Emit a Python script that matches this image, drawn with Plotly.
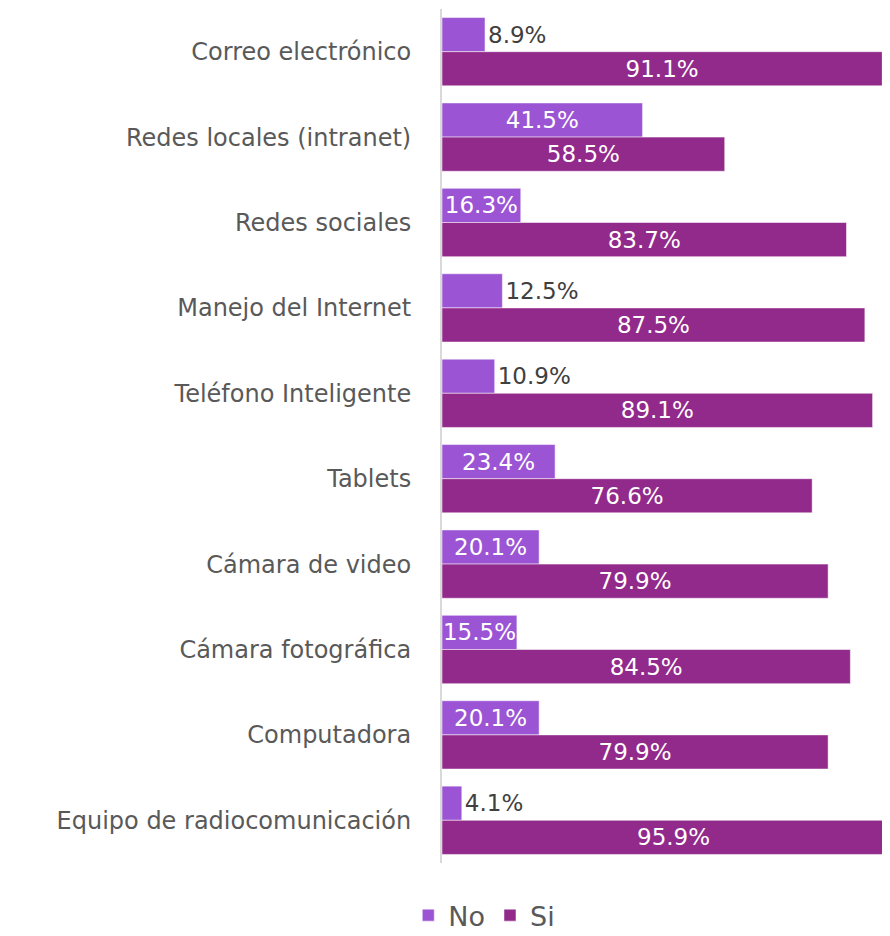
import plotly.graph_objects as go

categories = ["Correo electrónico", "Redes locales (intranet)", "Redes sociales",
              "Manejo del Internet", "Teléfono Inteligente", "Tablets",
              "Cámara de video", "Cámara fotográfica", "Computadora",
              "Equipo de radiocomunicación"]
no_vals = [8.9, 41.5, 16.3, 12.5, 10.9, 23.4, 20.1, 15.5, 20.1, 4.1]
si_vals = [91.1, 58.5, 83.7, 87.5, 89.1, 76.6, 79.9, 84.5, 79.9, 95.9]

FONT = "DejaVu Sans"
X_MAX = 92.7
no_pos = ["inside" if v >= 15 else "outside" for v in no_vals]
no_txtcol = ["white" if p == "inside" else "#404040" for p in no_pos]
# Si values exceeding the visible range get their label as annotation (bar is clipped)
si_text = [f"{v:.1f}%" if v <= X_MAX else "" for v in si_vals]

fig = go.Figure()
fig.add_trace(go.Bar(
    y=categories, x=no_vals, orientation="h", name="No",
    marker=dict(color="#9B55D4", line=dict(color="rgba(255,255,255,0.5)", width=1)),
    text=[f"{v:.1f}%" for v in no_vals], textposition=no_pos,
    insidetextanchor="middle",
    textfont=dict(family=FONT, size=23, color=no_txtcol),
    cliponaxis=False,
))
fig.add_trace(go.Bar(
    y=categories, x=si_vals, orientation="h", name="Si",
    marker=dict(color="#922A8C", line=dict(color="rgba(255,255,255,0.5)", width=1)),
    text=si_text, textposition="inside",
    insidetextanchor="middle",
    textfont=dict(family=FONT, size=23, color="white"),
))
for cat, v in zip(categories, si_vals):
    if v > X_MAX:
        fig.add_annotation(x=v / 2, y=cat, xref="x", yref="y", yshift=-17,
                           text=f"{v:.1f}%", showarrow=False,
                           font=dict(family=FONT, size=23, color="white"))

fig.update_layout(
    width=882, height=928,
    barmode="group", bargap=0.2, bargroupgap=0,
    plot_bgcolor="white", paper_bgcolor="white",
    margin=dict(l=434, r=0, t=1, b=73),
    font=dict(family=FONT, color="#595959"),
    uniformtext=dict(minsize=23, mode="show"),
    legend=dict(orientation="h", xref="container", yref="container",
                x=0.54, y=0.022, xanchor="center", yanchor="middle",
                font=dict(size=27, color="#595959", family=FONT),
                itemwidth=30, traceorder="normal"),
    xaxis=dict(range=[0, X_MAX], visible=False, showgrid=False, zeroline=False),
    yaxis=dict(autorange="reversed", showline=True, linecolor="#D9D9D9", linewidth=2,
               ticks="", ticklabelstandoff=24, showgrid=False,
               tickfont=dict(size=24, color="#595959", family=FONT)),
)
fig.write_html("out.html")
